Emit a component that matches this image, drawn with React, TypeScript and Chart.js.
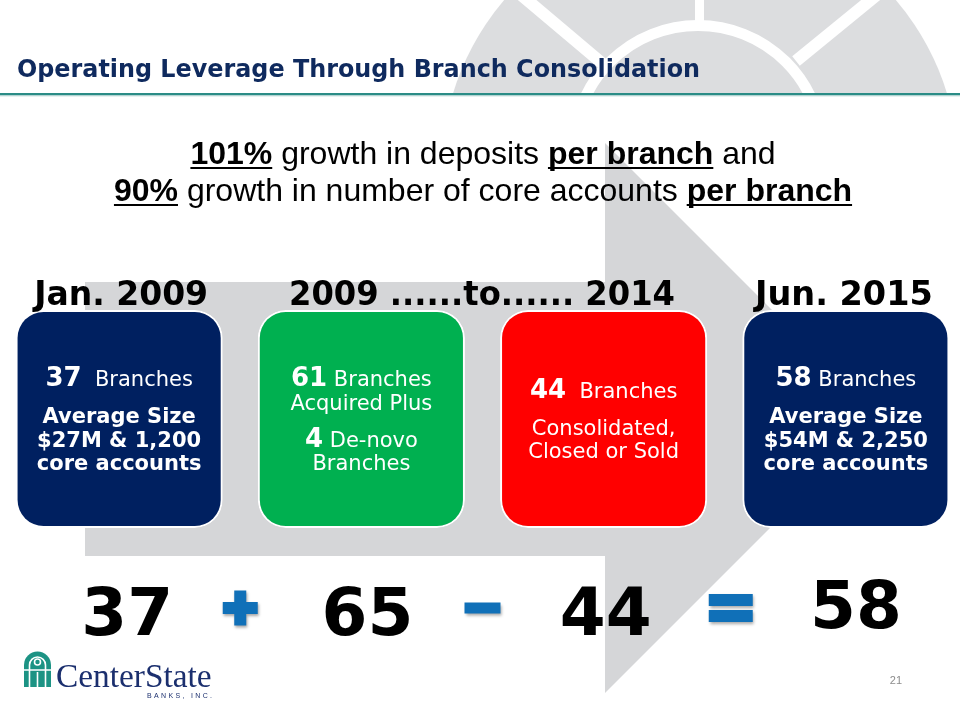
import React, { useEffect, useRef } from "react";
import { Chart, registerables } from "chart.js";

Chart.register(...registerables);

// ---------------- data ----------------
const PERIODS = ["Jan. 2009", "2009–2014 added", "2009–2014 removed", "Jun. 2015"];
const HEADERS = ["Jan. 2009", "2009 ......to...... 2014", "Jun. 2015"];
const HEADER_BOXES = [[0], [1, 2], [3]];
const BRANCH_CHANGES = [37, 65, 44, 58];
const OPERATORS = ["", "+", "-", "="];
const ACQUIRED_BRANCHES = 61;
const DE_NOVO_BRANCHES = 4;
const AVG_DEPOSITS = ["$27M", "$54M"];
const CORE_ACCOUNTS = ["1,200", "2,250"];
const BOX_COLORS = ["#002060", "#00b050", "#ff0000", "#002060"];
const TITLE = "Operating Leverage Through Branch Consolidation";
const SUBTITLE_LINES: [string, boolean][][] = [
  [["101%", true], [" growth in deposits ", false], ["per branch", true], [" and", false]],
  [["90%", true], [" growth in number of core accounts ", false], ["per branch", true]],
];
const PAGE_NUMBER = "21";

type Run = [string, "num" | "reg" | "bold"];
type Line = { runs: Run[]; gap?: boolean };
const BOX_LINES: Line[][] = [
  [
    { runs: [[String(BRANCH_CHANGES[0]), "num"], ["  Branches", "reg"]] },
    { gap: true, runs: [["Average Size", "bold"]] },
    { runs: [[`${AVG_DEPOSITS[0]} & ${CORE_ACCOUNTS[0]}`, "bold"]] },
    { runs: [["core accounts", "bold"]] },
  ],
  [
    { runs: [[String(ACQUIRED_BRANCHES), "num"], [" Branches", "reg"]] },
    { runs: [["Acquired Plus", "reg"]] },
    { gap: true, runs: [[String(DE_NOVO_BRANCHES), "num"], [" De-novo", "reg"]] },
    { runs: [["Branches", "reg"]] },
  ],
  [
    { runs: [[String(BRANCH_CHANGES[2]), "num"], ["  Branches", "reg"]] },
    { gap: true, runs: [["Consolidated,", "reg"]] },
    { runs: [["Closed or Sold", "reg"]] },
  ],
  [
    { runs: [[String(BRANCH_CHANGES[3]), "num"], [" Branches", "reg"]] },
    { gap: true, runs: [["Average Size", "bold"]] },
    { runs: [[`${AVG_DEPOSITS[1]} & ${CORE_ACCOUNTS[1]}`, "bold"]] },
    { runs: [["core accounts", "bold"]] },
  ],
];

// ---------------- styles / layout ----------------
const SHIFT = 2; // canvas starts 2px left of the page so the box grid lines up
const SANS = "'DejaVu Sans', Verdana, sans-serif";
const ARIAL = "'Liberation Sans', Arial, sans-serif";
const SERIF = "'Liberation Serif', 'Times New Roman', serif";
const RUN_FONTS: Record<string, string> = {
  num: `bold 26px ${SANS}`,
  reg: `21px ${SANS}`,
  bold: `bold 21px ${SANS}`,
};
const NAVY = "#0f2a5e";
const GREY_ARROW = "#d5d6d8";
const GREY_ARCH = "#dcdddf";
const OP_BLUE = "#1070b8";
const HEADER_WIDTHS = [174, 383, 178];
const HEADER_DX = [0, 0, -4];
const NUMBER_DX = [8, 6, 2, 10];
const OP_DX = [0, 0, 0, 6];

function fitText(ctx: CanvasRenderingContext2D, text: string, font: string, x0: number, x1: number, baseline: number, color: string) {
  ctx.save();
  ctx.font = font;
  ctx.textAlign = "left";
  ctx.textBaseline = "alphabetic";
  const m = ctx.measureText(text);
  const ink = m.actualBoundingBoxLeft + m.actualBoundingBoxRight;
  const sx = (x1 - x0) / ink;
  ctx.translate(x0, baseline);
  ctx.scale(sx, 1);
  ctx.fillStyle = color;
  ctx.fillText(text, m.actualBoundingBoxLeft, 0);
  ctx.restore();
}

function drawRuns(ctx: CanvasRenderingContext2D, runs: Run[], cx: number, baseline: number) {
  let total = 0;
  const widths = runs.map(([t, k]) => {
    ctx.font = RUN_FONTS[k];
    const w = ctx.measureText(t).width;
    total += w;
    return w;
  });
  let x = cx - total / 2;
  ctx.textAlign = "left";
  ctx.textBaseline = "alphabetic";
  ctx.fillStyle = "#ffffff";
  runs.forEach(([t, k], i) => {
    ctx.font = RUN_FONTS[k];
    ctx.fillText(t, x, baseline);
    x += widths[i];
  });
}

function drawBackground(ctx: CanvasRenderingContext2D, chart: any) {
  ctx.save();
  ctx.fillStyle = "#ffffff";
  ctx.fillRect(0, 0, chart.width, chart.height);
  ctx.translate(SHIFT, 0);

  // watermark arch (top right), clipped above the rule
  ctx.save();
  ctx.beginPath();
  ctx.rect(0, 0, 960, 94);
  ctx.clip();
  ctx.fillStyle = GREY_ARCH;
  ctx.beginPath();
  ctx.arc(700, 168, 258, 0, Math.PI * 2);
  ctx.fill();
  ctx.strokeStyle = "#ffffff";
  ctx.lineWidth = 11;
  ctx.beginPath();
  ctx.arc(698, 150, 124.5, 0, Math.PI * 2);
  ctx.stroke();
  ctx.fillStyle = "#ffffff";
  ctx.fillRect(695, 0, 9, 22);
  ctx.lineWidth = 12;
  ctx.beginPath();
  ctx.moveTo(520, -6);
  ctx.lineTo(603, 64);
  ctx.moveTo(878, -6);
  ctx.lineTo(796, 61);
  ctx.stroke();
  ctx.restore();

  // rule under title
  ctx.fillStyle = "#2b8c86";
  ctx.fillRect(-SHIFT, 93, 970, 2.5);
  ctx.fillStyle = "#cfe3e1";
  ctx.fillRect(-SHIFT, 95.5, 970, 1);

  // big grey arrow
  ctx.fillStyle = GREY_ARROW;
  ctx.beginPath();
  ctx.moveTo(85, 282);
  ctx.lineTo(605, 282);
  ctx.lineTo(605, 143);
  ctx.lineTo(880, 418);
  ctx.lineTo(605, 693);
  ctx.lineTo(605, 556);
  ctx.lineTo(85, 556);
  ctx.closePath();
  ctx.fill();

  // title
  fitText(ctx, TITLE, `bold 24px ${SANS}`, 18, 699, 77, NAVY);

  // subtitle
  const baselines = [164, 201];
  SUBTITLE_LINES.forEach((line, li) => {
    let total = 0;
    const ws = line.map(([t, b]) => {
      ctx.font = `${b ? "bold " : ""}32px ${ARIAL}`;
      const w = ctx.measureText(t).width;
      total += w;
      return w;
    });
    let x = 483 - total / 2;
    ctx.fillStyle = "#000000";
    ctx.textAlign = "left";
    ctx.textBaseline = "alphabetic";
    line.forEach(([t, b], i) => {
      ctx.font = `${b ? "bold " : ""}32px ${ARIAL}`;
      ctx.fillText(t, x, baselines[li]);
      if (b) ctx.fillRect(x, baselines[li] + 3, ws[i], 2);
      x += ws[i];
    });
  });
  ctx.restore();
}

function drawForeground(ctx: CanvasRenderingContext2D, chart: any) {
  const bars = chart.getDatasetMeta(0).data as any[];
  ctx.save();

  // headers over boxes (bar x is in canvas coordinates)
  HEADERS.forEach((h, i) => {
    const idx = HEADER_BOXES[i];
    const cx = idx.reduce((s, j) => s + bars[j].x, 0) / idx.length + HEADER_DX[i];
    const w = HEADER_WIDTHS[i];
    fitText(ctx, h, `bold 33px ${SANS}`, cx - w / 2, cx + w / 2, 305, "#000000");
  });

  // text in boxes
  BOX_LINES.forEach((lines, i) => {
    const bar = bars[i];
    const offs: number[] = [];
    let y = 0;
    lines.forEach((ln, k) => {
      if (k > 0) y += ln.gap ? 37 : 23.5;
      offs.push(y);
    });
    const mid = (bar.y + bar.base) / 2 + 9;
    const first = mid - y / 2;
    lines.forEach((ln, k) => drawRuns(ctx, ln.runs, bar.x, first + offs[k]));
  });

  // equation numbers
  ctx.fillStyle = "#000000";
  ctx.font = `bold 66px ${SANS}`;
  ctx.textAlign = "center";
  ctx.textBaseline = "alphabetic";
  BRANCH_CHANGES.forEach((v, i) => {
    const base = i === BRANCH_CHANGES.length - 1 ? 628 : 635;
    ctx.fillText(String(v), bars[i].x + NUMBER_DX[i], base);
  });

  // operators
  ctx.save();
  ctx.fillStyle = OP_BLUE;
  ctx.shadowColor = "rgba(0,0,0,0.35)";
  ctx.shadowBlur = 3;
  ctx.shadowOffsetX = 1;
  ctx.shadowOffsetY = 2;
  OPERATORS.forEach((op, i) => {
    if (!op) return;
    const cx = (bars[i - 1].x + bars[i].x) / 2 + OP_DX[i];
    const cy = 608;
    if (op === "+") {
      ctx.beginPath();
      ctx.rect(cx - 17.5, cy - 6, 35, 12);
      ctx.rect(cx - 6, cy - 17.5, 12, 35);
      ctx.fill("nonzero");
    } else if (op === "-") {
      ctx.fillRect(cx - 18, cy - 5.5, 36, 11);
    } else if (op === "=") {
      ctx.fillRect(cx - 22, cy - 14, 44, 12);
      ctx.fillRect(cx - 22, cy + 2, 44, 12);
    }
  });
  ctx.restore();

  ctx.translate(SHIFT, 0);

  // logo icon
  ctx.fillStyle = "#1c9384";
  ctx.beginPath();
  ctx.moveTo(24, 687);
  ctx.lineTo(24, 665);
  ctx.arc(37.5, 665, 13.5, Math.PI, 0);
  ctx.lineTo(51, 687);
  ctx.closePath();
  ctx.fill();
  ctx.strokeStyle = "#ffffff";
  ctx.lineWidth = 1.6;
  ctx.beginPath();
  ctx.arc(37.5, 665, 8, Math.PI, 0);
  ctx.moveTo(29.5, 665);
  ctx.lineTo(29.5, 687);
  ctx.moveTo(45.5, 665);
  ctx.lineTo(45.5, 687);
  ctx.moveTo(24, 670);
  ctx.lineTo(51, 670);
  ctx.stroke();
  ctx.beginPath();
  ctx.arc(37.5, 662, 3, 0, Math.PI * 2);
  ctx.stroke();
  ctx.beginPath();
  ctx.moveTo(37.5, 672);
  ctx.lineTo(37.5, 687);
  ctx.stroke();

  // logo text
  fitText(ctx, "CenterState", `33px ${SERIF}`, 57, 211, 687, "#1b2f6e");
  ctx.font = `7px ${ARIAL}`;
  ctx.fillStyle = "#1b2f6e";
  ctx.textAlign = "left";
  const small = "BANKS, INC.";
  const chars = small.split("");
  const nat = chars.reduce((s, c) => s + ctx.measureText(c).width, 0);
  const gap = (65 - nat) / (chars.length - 1);
  let sx = 147;
  chars.forEach((c) => {
    ctx.fillText(c, sx, 698);
    sx += ctx.measureText(c).width + gap;
  });

  // page number
  ctx.font = `11px ${ARIAL}`;
  ctx.fillStyle = "#8c8c8c";
  ctx.textAlign = "right";
  ctx.fillText(PAGE_NUMBER, 902, 684);

  ctx.restore();
}

export default function App() {
  const ref = useRef<HTMLCanvasElement | null>(null);

  useEffect(() => {
    if (!ref.current) return;
    const slidePlugin = {
      id: "slide",
      beforeDraw(chart: any) {
        drawBackground(chart.ctx, chart);
      },
      afterDatasetsDraw(chart: any) {
        drawForeground(chart.ctx, chart);
      },
    };
    const chart = new Chart(ref.current, {
      type: "bar",
      data: {
        labels: PERIODS,
        datasets: [
          {
            data: PERIODS.map(() => 1),
            backgroundColor: BOX_COLORS,
            borderColor: "#ffffff",
            borderWidth: 2,
            borderRadius: 28,
            borderSkipped: false,
            barPercentage: 0.855,
            categoryPercentage: 1,
          },
        ],
      },
      options: {
        responsive: false,
        animation: false,
        events: [],
        layout: { padding: { top: 310, bottom: 192, left: 0, right: 0 } },
        scales: {
          x: { display: false },
          y: { display: false, min: 0, max: 1 },
        },
        plugins: {
          legend: { display: false },
          tooltip: { enabled: false },
          title: { display: false },
        },
      },
      plugins: [slidePlugin],
    } as any);
    return () => chart.destroy();
  }, []);

  return (
    <div style={{ position: "fixed", left: 0, top: 0, width: 960, height: 720, background: "#ffffff", overflow: "hidden" }}>
      <canvas
        ref={ref}
        width={969}
        height={720}
        style={{ display: "block", width: 969, height: 720, marginLeft: -SHIFT }}
      />
    </div>
  );
}
